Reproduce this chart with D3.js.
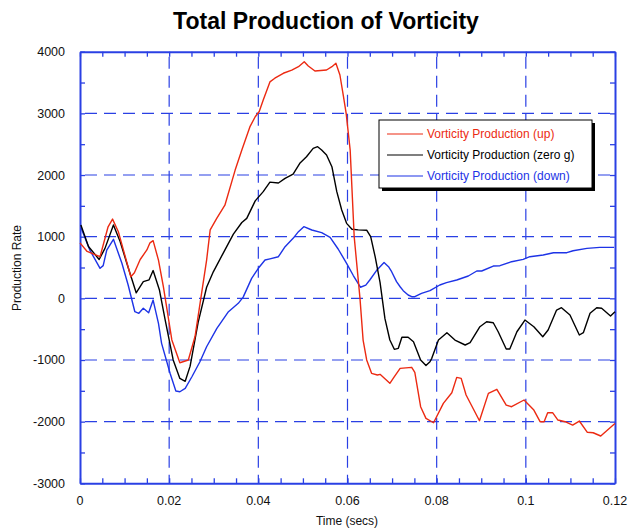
<!DOCTYPE html>
<html>
<head>
<meta charset="utf-8">
<script src="https://cdn.jsdelivr.net/npm/d3@7"></script>
<style>
  html, body { margin: 0; padding: 0; background: #fff; }
  svg { display: block; font-family: "Liberation Sans", Arial, Helvetica, sans-serif; }
</style>
</head>
<body>
<svg id="chart" width="633" height="531"></svg>
<script>
// ---- data ----
const title = "Total Production of Vorticity";
const xLabel = "Time (secs)";
const yLabel = "Production Rate";
const xTicks = [0, 0.02, 0.04, 0.06, 0.08, 0.1, 0.12];
const yTicks = [-3000, -2000, -1000, 0, 1000, 2000, 3000, 4000];
const seriesNames = ["Vorticity Production (up)", "Vorticity Production (zero g)", "Vorticity Production (down)"];

const upT = [0,.0016,.0045,.0063,.0073,.0086,.0114,.0122,.0135,.0150,.0157,.0164,.0176,.0187,.0206,.0224,.0243,.0258,.0271,.0284,.0292,.0307,.0325,.0348,.0363,.0381,.0393,.0402,.0411,.0426,.0437,.0456,.0475,.0490,.0503,.0512,.0527,.0553,.0565,.0574,.0583,.0591,.0597,.0606,.0615,.0628,.0635,.0643,.0654,.0667,.0673,.0695,.0704,.0718,.0744,.0751,.0764,.0776,.0793,.0815,.0834,.0845,.0855,.0866,.0896,.0916,.0935,.0956,.0968,.0996,.1018,.1032,.1041,.1049,.1060,.1072,.1088,.1105,.1120,.1138,.1151,.1168,.1196,.1200];
const upV = [900,760,675,1160,1285,1080,350,415,630,785,900,935,620,190,-675,-1045,-1000,-620,0,620,1110,1300,1510,2080,2405,2780,2945,3030,3215,3510,3570,3650,3700,3757,3838,3768,3687,3703,3757,3812,3622,3270,3000,2405,1000,0,-676,-1000,-1217,-1244,-1233,-1379,-1282,-1136,-1119,-1200,-1758,-1947,-2018,-1703,-1531,-1282,-1298,-1568,-1985,-1541,-1476,-1731,-1758,-1649,-1812,-2001,-2001,-1855,-1855,-1974,-2001,-2055,-1990,-2173,-2180,-2233,-2055,-2030];

const zeroT = [.0002,.0019,.0043,.0056,.0075,.0090,.0105,.0126,.0142,.0155,.0164,.0178,.0191,.0209,.0224,.0236,.0247,.0265,.0284,.0299,.0321,.0344,.0363,.0374,.0393,.0411,.0426,.0445,.0460,.0478,.0493,.0508,.0523,.0533,.0542,.0553,.0565,.0576,.0587,.0598,.0610,.0624,.0643,.0652,.0662,.0673,.0684,.0695,.0705,.0714,.0722,.0736,.0748,.0764,.0776,.0785,.0789,.0804,.0823,.0841,.0864,.0875,.0897,.0912,.0927,.0938,.0956,.0964,.0980,.0998,.1018,.1038,.1050,.1069,.1080,.1099,.1120,.1129,.1144,.1159,.1170,.1190,.1200];
const zeroV = [1190,840,630,810,1190,920,570,90,270,300,450,140,-350,-1000,-1300,-1345,-1100,-390,180,430,730,1040,1230,1297,1580,1730,1885,1870,1946,2016,2190,2297,2433,2459,2405,2324,2135,1730,1432,1216,1120,1110,1105,1000,675,260,-330,-676,-827,-811,-632,-632,-704,-1000,-1090,-1028,-973,-676,-558,-676,-757,-720,-460,-380,-396,-542,-822,-822,-542,-352,-460,-623,-514,-190,-152,-271,-595,-558,-243,-152,-162,-287,-217];

const downT = [.0002,.0022,.0045,.0052,.0060,.0075,.0094,.0108,.0123,.0132,.0142,.0154,.0164,.0176,.0183,.0202,.0215,.0224,.0236,.0251,.0269,.0284,.0307,.0333,.0355,.0366,.0385,.0400,.0415,.0426,.0445,.0460,.0478,.0490,.0502,.0520,.0542,.0561,.0579,.0598,.0613,.0629,.0641,.0650,.0665,.0682,.0692,.0699,.0710,.0718,.0725,.0736,.0744,.0751,.0766,.0785,.0807,.0822,.0845,.0871,.0890,.0901,.0927,.0942,.0968,.0994,.1009,.1039,.1062,.1092,.1106,.1137,.1166,.1198];
const downV = [1150,783,487,530,783,957,568,216,-217,-243,-162,-233,-28,-405,-730,-1216,-1504,-1515,-1460,-1272,-1028,-785,-487,-217,-81,20,324,487,621,640,675,837,973,1081,1162,1108,1065,990,800,568,370,180,215,297,450,580,513,432,270,188,124,54,26,26,81,124,216,254,297,362,443,443,524,529,594,632,675,702,740,740,772,811,827,827];

const colors = ["#ec2a12", "#000000", "#1d33e6"];

// ---- chart ----
const svg = d3.select("#chart");
const W = 633, H = 531;
const L = 80, R = 615, T = 51.7, B = 483.3;
const gridColor = "#2a40e4";

svg.append("rect").attr("width", W).attr("height", H).attr("fill", "#fff");

const x = d3.scaleLinear().domain([0, 0.12]).range([L, R]);
const y = d3.scaleLinear().domain([-3000, 4000]).range([B, T]);

// gridlines
const g = svg.append("g");
g.selectAll("line.vx").data(xTicks.slice(1, -1)).enter().append("line")
  .attr("x1", d => x(d)).attr("x2", d => x(d)).attr("y1", T).attr("y2", B)
  .attr("stroke", gridColor).attr("stroke-width", 1.2).attr("stroke-dasharray", "12,7")
  .attr("stroke-dashoffset", -5);
g.selectAll("line.hy").data(yTicks.slice(1, -1)).enter().append("line")
  .attr("x1", L).attr("x2", R).attr("y1", d => y(d)).attr("y2", d => y(d))
  .attr("stroke", gridColor).attr("stroke-width", 1.2).attr("stroke-dasharray", "12,7")
  .attr("stroke-dashoffset", -5);

// axes with minor ticks
const xMinor = d3.range(0, 0.1201, 0.005);
const yMinor = d3.range(-3000, 4001, 500);
const axB = svg.append("g").attr("transform", `translate(0,${B})`)
  .call(d3.axisBottom(x).tickValues(xMinor).tickSizeInner(-5).tickSizeOuter(0).tickFormat(""));
const axT = svg.append("g").attr("transform", `translate(0,${T})`)
  .call(d3.axisTop(x).tickValues(xMinor).tickSizeInner(-5).tickSizeOuter(0).tickFormat(""));
const axL = svg.append("g").attr("transform", `translate(${L},0)`)
  .call(d3.axisLeft(y).tickValues(yMinor).tickSizeInner(-5).tickSizeOuter(0).tickFormat(""));
const axR = svg.append("g").attr("transform", `translate(${R},0)`)
  .call(d3.axisRight(y).tickValues(yMinor).tickSizeInner(-5).tickSizeOuter(0).tickFormat(""));
[axB, axT, axL, axR].forEach(a => {
  a.selectAll("path").attr("stroke", gridColor).attr("stroke-width", 2);
  a.selectAll("line").attr("stroke", gridColor).attr("stroke-width", 1.3);
});

// tick labels
const xFmt = d => d === 0 ? "0" : String(d);
svg.append("g").selectAll("text").data(xTicks).enter().append("text")
  .attr("x", d => x(d)).attr("y", B + 22).attr("text-anchor", "middle")
  .attr("font-size", 12.5).attr("fill", "#111").text(xFmt);
svg.append("g").selectAll("text").data(yTicks).enter().append("text")
  .attr("x", L - 15).attr("y", d => y(d) + 4.5).attr("text-anchor", "end")
  .attr("font-size", 12.5).attr("fill", "#111").text(d => String(d));

// axis labels + title
svg.append("text").attr("x", 347).attr("y", 525).attr("text-anchor", "middle")
  .attr("font-size", 12).attr("fill", "#111").text(xLabel);
svg.append("text").attr("transform", "translate(21,268) rotate(-90)").attr("text-anchor", "middle")
  .attr("font-size", 12).attr("fill", "#111").text(yLabel);
svg.append("text").attr("x", 326).attr("y", 29).attr("text-anchor", "middle")
  .attr("font-size", 23).attr("font-weight", "bold").attr("fill", "#000").text(title);

// series
const series = [
  upT.map((t, i) => [t, upV[i]]),
  zeroT.map((t, i) => [t, zeroV[i]]),
  downT.map((t, i) => [t, downV[i]])
];
const line = d3.line().x(d => x(d[0])).y(d => y(d[1]));
const drawOrder = [2, 1, 0];
drawOrder.forEach(i => {
  svg.append("path").datum(series[i]).attr("d", line)
    .attr("fill", "none").attr("stroke", colors[i]).attr("stroke-width", 1.4)
    .attr("stroke-linejoin", "round");
});

// legend
const lg = svg.append("g").attr("transform", "translate(379,120)");
lg.append("rect").attr("x", 3).attr("y", 3).attr("width", 213).attr("height", 68).attr("fill", "#000");
lg.append("rect").attr("x", 0).attr("y", 0).attr("width", 213).attr("height", 68)
  .attr("fill", "#fff").attr("stroke", "#000").attr("stroke-width", 1);
seriesNames.forEach((name, i) => {
  const yy = 14 + i * 21;
  lg.append("line").attr("x1", 8).attr("x2", 44).attr("y1", yy).attr("y2", yy)
    .attr("stroke", colors[i]).attr("stroke-width", 1.2);
  lg.append("text").attr("x", 48).attr("y", yy + 4).attr("font-size", 12)
    .attr("fill", colors[i]).text(name);
});
</script>
</body>
</html>
